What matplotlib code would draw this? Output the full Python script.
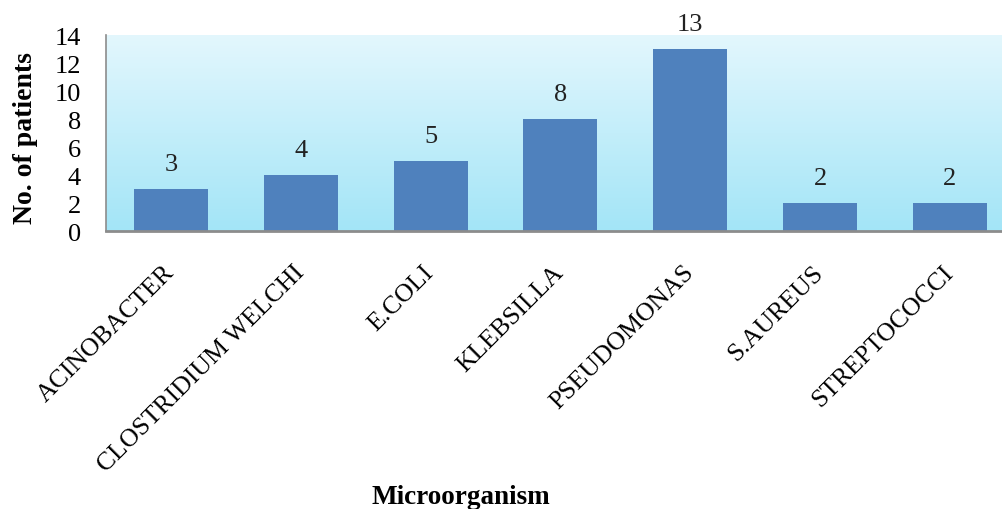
import numpy as np
import matplotlib
matplotlib.use("Agg")
import matplotlib.pyplot as plt
from matplotlib.colors import LinearSegmentedColormap

# data
organisms = ["ACINOBACTER", "CLOSTRIDIUM WELCHI", "E.COLI", "KLEBSILLA",
             "PSEUDOMONAS", "S.AUREUS", "STREPTOCOCCI"]
patients = [3, 4, 5, 8, 13, 2, 2]
yticks = [0, 2, 4, 6, 8, 10, 12, 14]

plt.rcParams['font.family'] = ['Liberation Serif', 'DejaVu Serif']

fig = plt.figure(figsize=(10.02, 5.10), dpi=100)
ax = fig.add_axes([0.1058, 0.545, 0.907, 0.384])

x = np.arange(len(organisms))
ax.set_xlim(-0.5, len(organisms) - 0.5)
ax.set_ylim(0, 14)

# gradient background (light at top, stronger cyan at bottom)
cmap = LinearSegmentedColormap.from_list("bg", ["#a3e5f7", "#e3f7fd"])
grad = np.linspace(0, 1, 256).reshape(-1, 1)
ax.imshow(grad, cmap=cmap, origin="lower", aspect="auto",
          extent=[-0.5, len(organisms) - 0.5, 0, 14], zorder=0)

bars = ax.bar(x, patients, width=0.57, color="#4f81bd", zorder=2)
for xi, v in zip(x, patients):
    ax.text(xi, v + 1.8, str(v), ha="center", va="center", fontsize=19,
            color="#222222")

ax.set_yticks(yticks)
ax.set_yticklabels([str(t) for t in yticks], fontsize=19)
ax.tick_params(axis="y", length=0, pad=18)
ax.set_xticks(x)
ax.set_xticklabels(organisms, rotation=45, ha="right", va="center",
                   rotation_mode="anchor", fontsize=18.5)
ax.tick_params(axis="x", length=0, pad=27)

for s in ["top", "right"]:
    ax.spines[s].set_visible(False)
ax.spines["left"].set_color("#8c8c8c")
ax.spines["left"].set_linewidth(1.2)
ax.spines["bottom"].set_color("#8c8c8c")
ax.spines["bottom"].set_linewidth(2.0)
ax.spines["bottom"].set_zorder(3)

fig.text(0.025, 0.73, "No. of patients", rotation=90, ha="center",
         va="center", fontsize=20, fontweight="bold")
fig.text(0.46, 0.025, "Microorganism", ha="center", va="center",
         fontsize=19.5, fontweight="bold")

fig.savefig("out.png", dpi=100)
